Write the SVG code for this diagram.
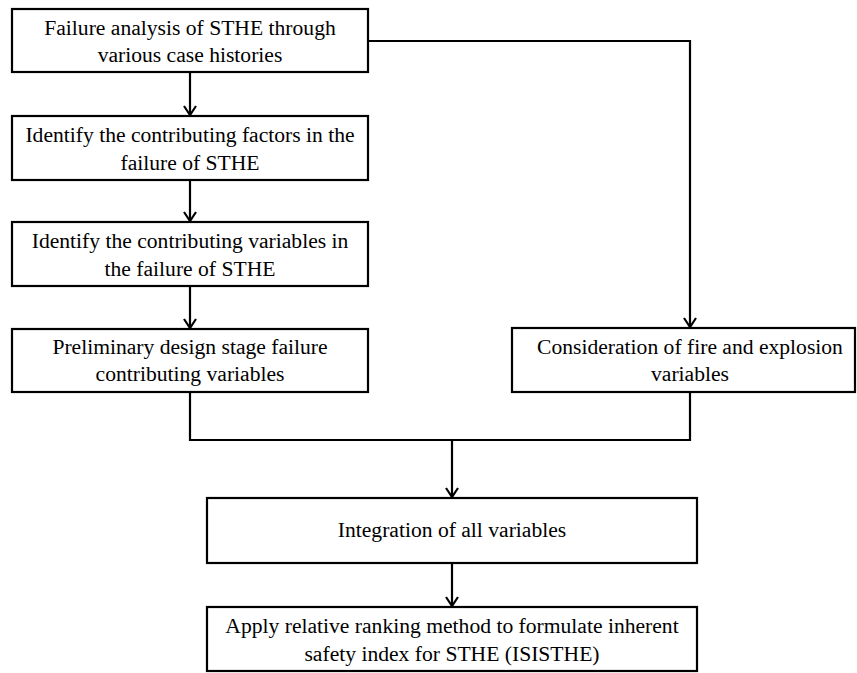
<svg xmlns="http://www.w3.org/2000/svg" width="857" height="673" viewBox="0 0 857 673">
<defs>
<style>
.box{fill:#fff;stroke:#000;stroke-width:2.2}
.t{font-family:'Liberation Serif','DejaVu Serif',serif;font-size:21.6px;fill:#000;text-anchor:middle}
.c{fill:none;stroke:#000;stroke-width:2.2}
</style>
<marker id="ah" markerWidth="14" markerHeight="14" refX="10" refY="7" orient="auto" markerUnits="userSpaceOnUse" viewBox="0 0 14 14">
<path d="M1,1 L10,7 L1,13" fill="none" stroke="#000" stroke-width="2.2"/>
</marker>
</defs>
<rect width="857" height="673" fill="#fff"/>
<g id="connectors">
<line class="c" x1="190" y1="72" x2="190" y2="115" marker-end="url(#ah)"/>
<line class="c" x1="190" y1="180" x2="190" y2="221" marker-end="url(#ah)"/>
<line class="c" x1="190" y1="286" x2="190" y2="328" marker-end="url(#ah)"/>
<polyline class="c" points="368,41 690,41 690,327" marker-end="url(#ah)"/>
<polyline class="c" points="190,392 190,440 690,440 690,392"/>
<line class="c" x1="452" y1="440" x2="452" y2="497" marker-end="url(#ah)"/>
<line class="c" x1="452" y1="563" x2="452" y2="606" marker-end="url(#ah)"/>
</g>
<g id="n1"><rect class="box" x="12" y="9" width="356" height="63"/>
<text class="t" x="190" y="35">Failure analysis of STHE through</text>
<text class="t" x="190" y="62">various case histories</text></g>
<g id="n2"><rect class="box" x="12" y="116" width="356" height="64"/>
<text class="t" x="190" y="142">Identify the contributing factors in the</text>
<text class="t" x="190" y="170">failure of STHE</text></g>
<g id="n3"><rect class="box" x="12" y="222" width="356" height="64"/>
<text class="t" x="190" y="248">Identify the contributing variables in</text>
<text class="t" x="190" y="276">the failure of STHE</text></g>
<g id="n4"><rect class="box" x="12" y="329" width="356" height="63"/>
<text class="t" x="190" y="354">Preliminary design stage failure</text>
<text class="t" x="190" y="381">contributing variables</text></g>
<g id="n5"><rect class="box" x="512" y="328" width="343" height="64"/>
<text class="t" x="690" y="354">Consideration of fire and explosion</text>
<text class="t" x="690" y="381">variables</text></g>
<g id="n6"><rect class="box" x="207" y="498" width="490" height="65"/>
<text class="t" x="452" y="537">Integration of all variables</text></g>
<g id="n7"><rect class="box" x="207" y="607" width="490" height="64"/>
<text class="t" x="452" y="633">Apply relative ranking method to formulate inherent</text>
<text class="t" x="452" y="661">safety index for STHE (ISISTHE)</text></g>
</svg>
